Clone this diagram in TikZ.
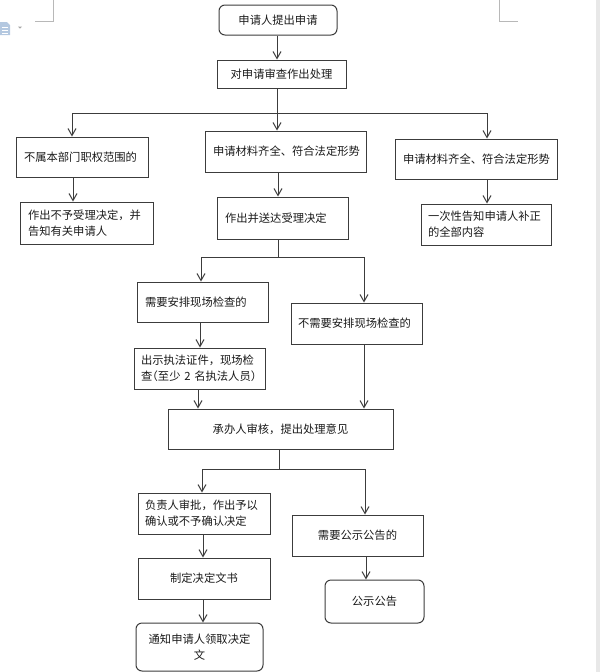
\documentclass[tikz,border=0pt]{standalone}
\usepackage{fontspec}
\setmainfont{Noto Sans CJK SC}
\usetikzlibrary{arrows.meta}
\definecolor{linec}{HTML}{3C3C3C}
\definecolor{txtc}{HTML}{1A1A1A}
\definecolor{markc}{HTML}{B8B8B8}
\definecolor{iconc}{HTML}{B4C8E0}
\newcommand\hwp[1]{{\addfontfeature{RawFeature=+halt}#1}}
\begin{document}
\begin{tikzpicture}[x=1pt,y=-1pt,
  every node/.style={font=\fontsize{11.3}{16}\selectfont, text=txtc},
  box/.style={draw=linec, line width=1pt, inner sep=0pt, align=center},
  lbox/.style={draw=linec, line width=1pt, inner xsep=8pt, inner ysep=0pt, align=left},
  rbox/.style={box, rounded corners=6pt},
  arr/.style={draw=linec, line width=1pt, -{Straight Barb[length=7pt,width=8pt]}},
  ln/.style={draw=linec, line width=1pt}]
\useasboundingbox (0,0) rectangle (600,672);
% page decorations
\draw[markc, line width=0.8pt] (35,21) -- (53,21) -- (53,0);
\draw[markc, line width=0.8pt] (499,0) -- (499,21) -- (518,21);
\fill[gray!18] (596,0) rectangle (600,672);
\fill[iconc] (0,22) -- (7,22) -- (10,25) -- (10,35) -- (0,35) -- cycle;
\draw[white, line width=0.7pt] (2,27) -- (8,27) (2,30) -- (8,30) (2,33) -- (8,33);
\fill[gray!70] (18,26.5) -- (22,26.5) -- (20,28.5) -- cycle;
% nodes
\node[rbox, minimum width=118pt, minimum height=30pt] (top) at (278,20) {申请人提出申请};
\node[box, minimum width=129pt, minimum height=28pt] (b2) at (281.5,74) {对申请审查作出处理};
\node[lbox, text width=116pt, minimum height=40pt] (l1) at (82,157) {不属本部门职权范围的};
\node[lbox, text width=145pt, minimum height=41pt] (m1) at (285.5,151.5) {申请材料齐全、符合法定形势};
\node[lbox, text width=146pt, minimum height=40pt] (r1) at (476,159) {申请材料齐全、符合法定形势};
\node[lbox, text width=117pt, minimum height=42pt] (l2) at (86.5,223) {作出不予受理决定，并\\告知有关申请人};
\node[lbox, text width=115pt, minimum height=42pt] (m2) at (282.5,218) {作出并送达受理决定};
\node[lbox, text width=116pt, minimum height=41pt, inner xsep=7pt] (r2) at (486,224.5) {一次性告知申请人补正\\的全部内容};
\node[lbox, text width=115pt, minimum height=40pt] (n1) at (202.5,302) {需要安排现场检查的};
\node[lbox, text width=117pt, minimum height=41pt, inner xsep=7pt] (n2) at (356.5,323.5) {不需要安排现场检查的};
\node[lbox, text width=117pt, minimum height=41pt, inner xsep=7pt] (c1) at (199.5,368.5) {出示执法证件，现场检\\查\hwp{（}至少~2~名执法人员\hwp{）}};
\node[box, minimum width=225pt, minimum height=40pt] (s) at (280.5,429) {承办人审核，提出处理意见};
\node[lbox, text width=118pt, minimum height=41pt, inner xsep=7pt] (f) at (204,513.5) {负责人审批，作出予以\\确认或不予确认决定};
\node[box, minimum width=131pt, minimum height=41pt] (g) at (357.5,535.5) {需要公示公告的};
\node[box, minimum width=132pt, minimum height=41pt] (d) at (204,578.5) {制定决定文书};
\node[rbox, minimum width=99pt, minimum height=43pt] (p) at (374.5,601.5) {公示公告};
\node[rbox, minimum width=127pt, minimum height=48pt] (t) at (199.5,647) {通知申请人领取决定\\文};
% junctions
\coordinate (j1) at (277,113);
\coordinate (j2) at (278,257);
\coordinate (j3) at (279,469);
% connectors
\draw[arr] ([xshift=-1pt]top.south) -- ([xshift=-1pt]top.south |- b2.north);
\draw[ln] (j1 |- b2.south) -- (j1);
\draw[ln] ([xshift=-10pt]l1.north |- j1) -- ([xshift=11pt]r1.north |- j1);
\draw[arr] ([xshift=-10pt]l1.north |- j1) -- ([xshift=-10pt]l1.north);
\draw[arr] (j1) -- (j1 |- m1.north);
\draw[arr] ([xshift=11pt]r1.north |- j1) -- ([xshift=11pt]r1.north);
\draw[arr] ([xshift=-9pt]l1.south) -- ([xshift=-9pt]l1.south |- l2.north);
\draw[arr] ([xshift=-7.5pt]m1.south) -- ([xshift=-7.5pt]m1.south |- m2.north);
\draw[arr] ([xshift=11pt]r1.south) -- ([xshift=11pt]r1.south |- r2.north);
\draw[ln] (j2 |- m2.south) -- (j2);
\draw[ln] ([xshift=-1.5pt]n1.north |- j2) -- ([xshift=7.5pt]n2.north |- j2);
\draw[arr] ([xshift=-1.5pt]n1.north |- j2) -- ([xshift=-1.5pt]n1.north);
\draw[arr] ([xshift=7.5pt]n2.north |- j2) -- ([xshift=7.5pt]n2.north);
\draw[arr] ([xshift=-2.5pt]n1.south) -- ([xshift=-2.5pt]n1.south |- c1.north);
\draw[arr] ([xshift=-1.5pt]c1.south) -- ([xshift=-1.5pt]c1.south |- s.north);
\draw[arr] ([xshift=7.5pt]n2.south) -- ([xshift=7.5pt]n2.south |- s.north);
\draw[ln] (j3 |- s.south) -- (j3);
\draw[ln] ([xshift=-2pt]f.north |- j3) -- ([xshift=7.5pt]g.north |- j3);
\draw[arr] ([xshift=-2pt]f.north |- j3) -- ([xshift=-2pt]f.north);
\draw[arr] ([xshift=7.5pt]g.north |- j3) -- ([xshift=7.5pt]g.north);
\draw[arr] ([xshift=-1pt]f.south) -- ([xshift=-1pt]f.south |- d.north);
\draw[arr] ([xshift=-1pt]d.south) -- ([xshift=-1pt]d.south |- t.north);
\draw[arr] ([xshift=8.5pt]g.south) -- ([xshift=8.5pt]g.south |- p.north);
\end{tikzpicture}
\end{document}
